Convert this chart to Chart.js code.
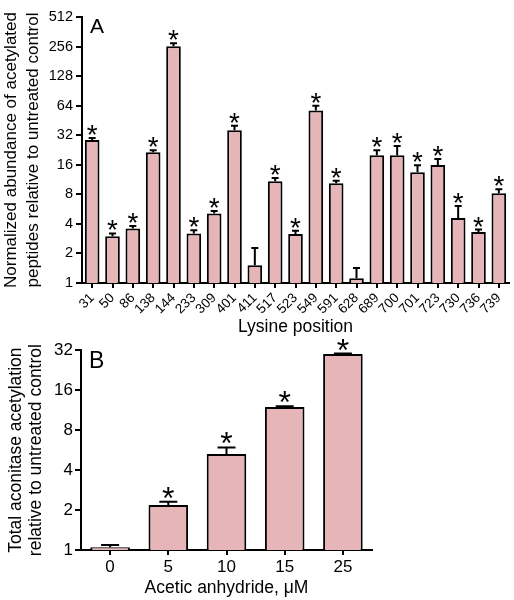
<!DOCTYPE html>
<html>
<head>
<meta charset="utf-8">
<script src="https://cdn.jsdelivr.net/npm/chart.js@4"></script>
<style>
  html, body { margin: 0; padding: 0; background: #fff; }
  #wrap { position: relative; width: 514px; height: 600px; }
  .panel { position: absolute; left: 0; width: 514px; }
</style>
</head>
<body>
<div id="wrap">
  <div class="panel" style="top:0;height:338px"><canvas id="chartA"></canvas></div>
  <div class="panel" style="top:338px;height:262px"><canvas id="chartB"></canvas></div>
</div>
<script>
// Panel A: acetylated lysines
const lysinePositions = ['31', '50', '86', '138', '144', '233', '309', '401', '411', '517', '523',
  '549', '591', '628', '689', '700', '701', '723', '730', '736', '739'];
const abundance = [28.6, 3.0, 3.6, 21.5, 258, 3.2, 5.1, 36, 1.52, 10.9, 3.15,
  57, 10.4, 1.12, 20, 20, 13.4, 15.9, 4.6, 3.3, 8.2];
const abundanceUpper = [30, 3.2, 3.8, 22.5, 276, 3.45, 5.4, 40, 2.27, 11.7, 3.4,
  64, 11, 1.42, 22.5, 24.8, 15.8, 18.3, 6.1, 3.5, 9.0];
const abundanceSig = [true, true, true, true, true, true, true, true, false, true, true,
  true, true, false, true, true, true, true, true, true, true];
const yTicksA = [1, 2, 4, 8, 16, 32, 64, 128, 256, 512];

// Panel B: total acetylation vs dose
const doses = ['0', '5', '10', '15', '25'];
const totalAcetylation = [1.05, 2.18, 5.28, 11.97, 29.9];
const totalUpper = [1.09, 2.31, 5.93, 12.1, 30.2];
const totalSig = [false, true, true, true, true];
const yTicksB = [1, 2, 4, 8, 16, 32];

const FONT = '"Liberation Sans", Arial, sans-serif';
const barFill = '#e5b5b8';

function markers(upper, sig, capWidth, starSize, letter, letterSize) {
    return {
        id: 'markers',
        afterDatasetsDraw(chart) {
            const ctx = chart.ctx;
            const y = chart.scales.y;
            const meta = chart.getDatasetMeta(0);
            ctx.save();
            ctx.strokeStyle = '#000';
            ctx.fillStyle = '#000';
            ctx.lineWidth = 2;
            ctx.font = starSize + 'px ' + FONT;
            const m = ctx.measureText('*');
            meta.data.forEach((bar, i) => {
                const top = y.getPixelForValue(upper[i]);
                ctx.beginPath();
                ctx.moveTo(bar.x, bar.y);
                ctx.lineTo(bar.x, top);
                ctx.moveTo(bar.x - capWidth / 2, top);
                ctx.lineTo(bar.x + capWidth / 2, top);
                ctx.stroke();
                if (sig[i]) {
                    ctx.textAlign = 'center';
                    ctx.textBaseline = 'alphabetic';
                    ctx.fillText('*', bar.x, top - 3 - m.actualBoundingBoxDescent);
                }
            });
            ctx.font = letterSize + 'px ' + FONT;
            ctx.textAlign = 'left';
            ctx.textBaseline = 'alphabetic';
            ctx.fillText(letter, chart.chartArea.left + 8, chart.chartArea.top + letterSize * 0.76);
            ctx.restore();
        }
    };
}

function logAxis(ticks, tickSize, title, titleSize, lineH, titlePad, width, tickPad) {
    return {
        type: 'logarithmic',
        min: ticks[0],
        max: ticks[ticks.length - 1],
        afterBuildTicks: s => { s.ticks = ticks.map(v => ({ value: v })); },
        afterFit: s => { s.width = width; },
        border: { color: '#000', width: 2 },
        grid: { drawOnChartArea: false, drawTicks: true, tickLength: 6, tickColor: '#000', lineWidth: 2 },
        ticks: { color: '#000', font: { family: FONT, size: tickSize }, padding: tickPad,
                 callback: v => String(v) },
        title: { display: true, text: title, color: '#000',
                 font: { family: FONT, size: titleSize, lineHeight: lineH },
                 padding: { top: titlePad, bottom: 0 } }
    };
}

new Chart(document.getElementById('chartA'), {
    type: 'bar',
    data: {
        labels: lysinePositions,
        datasets: [{ data: abundance, backgroundColor: barFill, borderColor: '#000',
                     borderWidth: 2, barPercentage: 0.72, categoryPercentage: 1 }]
    },
    options: {
        responsive: true, maintainAspectRatio: false, animation: false,
        layout: { padding: { top: 17, right: 5, left: 0, bottom: 0 } },
        plugins: { legend: { display: false }, tooltip: { enabled: false } },
        scales: {
            x: {
                afterFit: s => { s.height = 55; },
                border: { color: '#000', width: 2 },
                grid: { offset: false, drawOnChartArea: false, drawTicks: true, tickLength: 5,
                        tickColor: '#000', lineWidth: 2 },
                ticks: { color: '#000', font: { family: FONT, size: 13.5 }, padding: 2,
                         minRotation: 45, maxRotation: 45, autoSkip: false },
                title: { display: true, text: 'Lysine position', color: '#000',
                         font: { family: FONT, size: 17.5, lineHeight: 1.2 }, padding: 0 }
            },
            y: logAxis(yTicksA, 14.5, ['Normalized abundance of acetylated', 'peptides relative to untreated control'],
                       17, 1.3, 0, 82, 3)
        }
    },
    plugins: [markers(abundanceUpper, abundanceSig, 7, 28, 'A', 21)]
});

new Chart(document.getElementById('chartB'), {
    type: 'bar',
    data: {
        labels: doses,
        datasets: [{ data: totalAcetylation, backgroundColor: barFill, borderColor: '#000',
                     borderWidth: 2, barPercentage: 0.68, categoryPercentage: 1 }]
    },
    options: {
        responsive: true, maintainAspectRatio: false, animation: false,
        layout: { padding: { top: 12, right: 142, left: 0, bottom: 0 } },
        plugins: { legend: { display: false }, tooltip: { enabled: false } },
        scales: {
            x: {
                afterFit: s => { s.height = 50; },
                border: { color: '#000', width: 2 },
                grid: { offset: false, drawOnChartArea: false, drawTicks: true, tickLength: 5,
                        tickColor: '#000', lineWidth: 2 },
                ticks: { color: '#000', font: { family: FONT, size: 17 }, padding: 2,
                         minRotation: 0, maxRotation: 0 },
                title: { display: true, text: 'Acetic anhydride, \u03bcM', color: '#000',
                         font: { family: FONT, size: 17.5, lineHeight: 1.2 }, padding: { top: 0, bottom: 1.5 } }
            },
            y: logAxis(yTicksB, 17, ['Total aconitase acetylation', 'relative to untreated control'],
                       17.5, 1.15, 6, 81, 2)
        }
    },
    plugins: [markers(totalUpper, totalSig, 18, 32, 'B', 23)]
});
</script>
</body>
</html>
